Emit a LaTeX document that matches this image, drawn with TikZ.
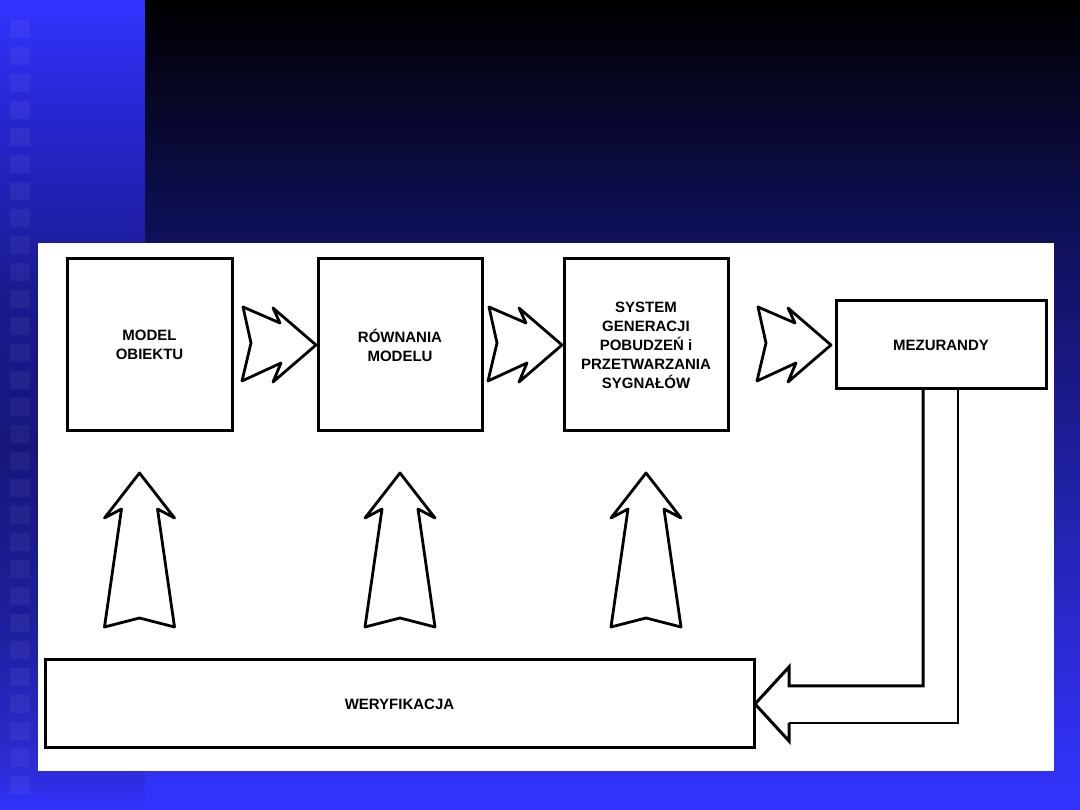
\documentclass[tikz,border=0pt]{standalone}
\usepackage{fontspec}
\setmainfont{Liberation Sans}
\usetikzlibrary{calc}
\definecolor{slideBlue}{RGB}{51,51,255}
\definecolor{slideNavy}{RGB}{16,16,92}
\definecolor{slideMid}{RGB}{20,20,110}
\definecolor{slideLow}{RGB}{46,46,228}
\definecolor{stripA}{RGB}{40,40,215}
\definecolor{stripB}{RGB}{26,26,145}
\definecolor{stripC}{RGB}{22,22,125}
\definecolor{stripD}{RGB}{30,30,156}
\definecolor{stripE}{RGB}{44,44,214}
\tikzset{
  blockbox/.style={draw,line width=3pt,outer sep=0pt,fill=white,align=center,
    font=\bfseries\fontsize{15}{19}\selectfont},
  hollowline/.style={draw,line width=2.8pt,line join=round,fill=white},
  jagright/.pic={\path[hollowline] (-73,38) -- (-36,22) -- (-43,37) -- (0,0) -- (-43,-37)
    -- (-35,-18) -- (-74,-36) -- (-65,2) -- cycle;},
  jagup/.pic={\path[hollowline] (0,0) -- (35,-45) -- (18,-36) -- (35,-154) -- (0,-145)
    -- (-35,-154) -- (-18,-36) -- (-35,-45) -- cycle;}
}

\begin{document}
\begin{tikzpicture}[x=1pt,y=1pt]
  \useasboundingbox (0,0) rectangle (1080,810);
  \foreach \ya/\yb/\ca/\cb in {810/570/black/slideNavy,570/510/slideNavy/slideMid,
      510/110/slideMid/slideLow,110/0/slideLow/slideBlue}
    \shade[top color=\ca,bottom color=\cb] (144,\yb) rectangle (1080,\ya+0.5);
  \foreach \ya/\yb/\ca/\cb in {810/710/slideBlue/stripA,710/520/stripA/stripB,
      520/360/stripB/stripC,360/190/stripC/stripD,190/40/stripD/stripE,40/0/stripE/slideBlue}
    \shade[top color=\ca,bottom color=\cb] (0,\yb) rectangle (144.5,\ya+0.5);
  \foreach \k in {0,...,28}
    \fill[white,fill opacity=0.05] (10,{790-27*\k}) rectangle +(20,-18);
  \fill[white] (38,39) rectangle (1054,567);

  \node[blockbox,minimum width=165pt,minimum height=172pt] (obiekt) at (149.5,465) {MODEL\\OBIEKTU};
  \node[blockbox,minimum width=164pt,minimum height=172pt] (rownania) at (400,465) {RÓWNANIA\\MODELU};
  \node[blockbox,minimum width=164pt,minimum height=172pt] (system) at (646,465)
    {SYSTEM\\GENERACJI\\POBUDZEŃ i\\PRZETWARZANIA\\SYGNAŁÓW};
  \node[blockbox,minimum width=210pt,minimum height=88pt] (mezurandy) at (941,465) {MEZURANDY};
  \node[blockbox,minimum width=709pt,minimum height=88pt] (weryfikacja) at (399.5,106) {WERYFIKACJA};

  \foreach \n/\dx in {rownania/-2,system/-2,mezurandy/-5}
    \pic at ($(\n.west)+(\dx,0)$) {jagright};
  \foreach \n/\dx in {obiekt/-10,rownania/0,system/0}
    \pic at ($(\n.south)+(\dx,-42)$) {jagup};

  \coordinate (fbIn) at ($(mezurandy.south)+(-18,0)$);
  \coordinate (fbOut) at ($(mezurandy.south)+(17,0)$);
  \draw[line width=3pt] (fbIn) |- ($(weryfikacja.east)+(35,18)$) -- ++(0,19)
    -- ($(weryfikacja.east)+(1,0)$) -- ($(weryfikacja.east)+(35,-37)$) -- ++(0,18);
  \draw[line width=1.3pt] ($(weryfikacja.east)+(35,-19)$) -| (fbOut);
\end{tikzpicture}
\end{document}
